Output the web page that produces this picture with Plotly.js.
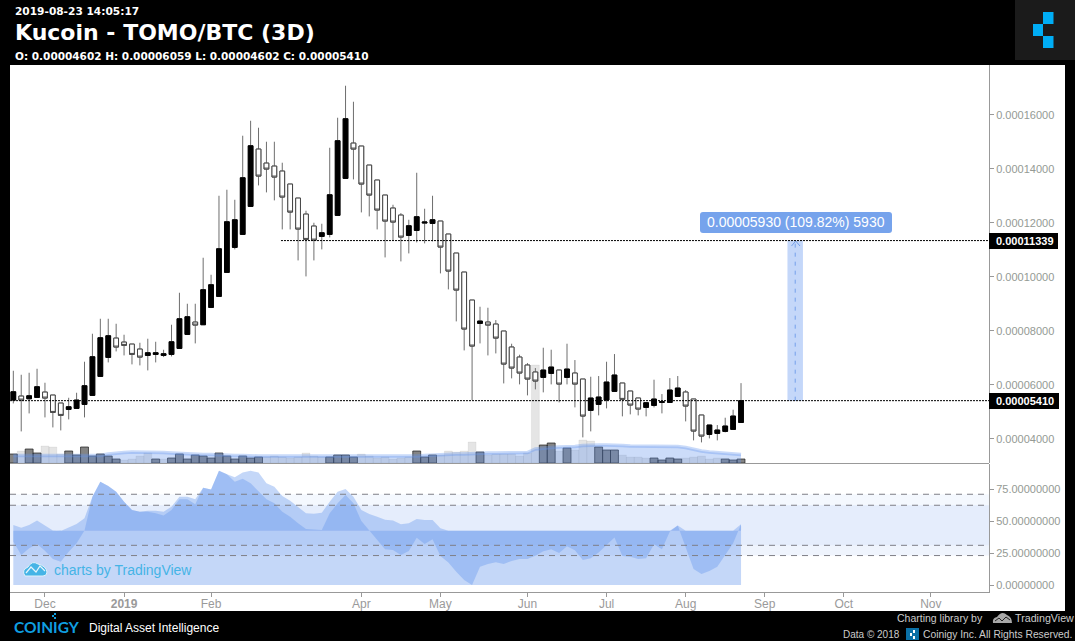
<!DOCTYPE html>
<html>
<head>
<meta charset="utf-8">
<title>Kucoin - TOMO/BTC (3D)</title>
<script src="https://cdn.plot.ly/plotly-3.0.1.min.js"></script>
<style>
  html, body { margin: 0; padding: 0; background: #000; overflow: hidden; }
</style>
</head>
<body>
<div id="plot" style="width:1075px;height:641px"></div>
<script>
// prices are in satoshi (1e-8 BTC), one candle per 3 days
const opens = [5432,5580,5481,5530,5728,5617,5321,5086,5123,5271,5605,6308,7012,7728,7580,7506,7321,7086,7123,7086,7123,7345,7864,8321,8222,8864,9272,10161,11087,11568,12605,14729,14210,14099,13914,13433,12914,12321,11877,11494,11568,12272,13642,14951,14840,14136,13581,13025,12544,12284,11531,11716,11988,11976,12062,11581,10877,10173,9136,8272,8321,8247,7988,7396,7025,6729,6470,6272,6420,6544,6272,6433,6210,5050,5272,5433,5754,6062,5766,5507,5161,5235,5346,5346,5568,5729,5470,4877,4161,4198,4272,4346,4602];
const highs = [6518,6370,6444,6592,6074,5617,5321,5518,5703,6852,7889,8444,8444,8259,7852,7506,7555,7704,7592,7296,8222,9407,9000,9000,10704,10074,13000,13223,12852,15223,15778,15519,15001,15001,14223,13433,12914,12445,12000,11963,14778,15890,17075,16482,14840,14136,13581,13025,12667,12358,12111,13852,12519,13000,12062,11581,10877,10173,9136,8889,8852,8395,7988,7519,7112,6803,6618,7371,7297,6544,7519,6914,6210,6297,6322,6852,7136,6062,5766,5507,5346,6186,5655,6247,6322,5803,5470,4877,4507,4507,4778,5074,6059];
const lows = [5308,4271,4938,5530,4790,4419,4308,4716,5123,4790,5605,6308,6827,7234,7086,6753,6716,6531,6827,7024,7049,7345,7864,7531,8222,8839,9272,10161,11013,11568,12605,13383,13124,12828,11753,11753,10605,10012,10605,11013,11457,12272,13642,13605,12383,12235,11753,10716,11346,10568,10864,11272,11235,11309,10124,9531,8346,7271,5432,7531,7086,7160,6049,6235,6013,5605,5828,5717,6013,5346,6013,5161,4050,4272,4865,5124,5754,4828,4902,4865,4828,5161,4939,5346,5568,4642,3939,3864,4013,3939,4235,4346,4602];
const closes = [5740,5432,5592,5926,5506,4975,4864,5185,5432,5963,7037,7741,7815,7395,7457,7123,7024,7185,7185,7148,7592,8444,8518,8210,9519,9704,11037,12037,12111,13667,14852,13729,13988,13692,12951,12395,11766,11383,11358,11630,13037,15038,15853,14729,13433,13025,12470,12062,12025,11469,11889,12223,12025,12111,11099,10210,9506,8062,7432,8358,8210,7728,6765,6618,6433,6210,6136,6544,6655,6025,6581,6025,4840,5507,5544,6099,6359,5457,5247,5099,5334,5470,5371,5803,5877,5210,4284,4099,4507,4321,4470,4840,5410];

// volume has no scale in the picture, so these are relative heights
const volume = [9,12,14,10,17,16,9,12,8,16,7,9,7,4,3,4,7,10,4,4,5,9,4,8,7,5,10,7,4,7,5,6,6,7,6,5,6,10,7,6,6,8,8,6,9,7,5,6,4,5,6,12,6,8,8,12,11,12,21,11,8,9,9,9,7,10,98,18,20,12,15,13,23,22,16,13,13,8,6,6,5,5,3,5,4,5,6,7,4,5,4,3,4];
const volumeRising = [1,0,1,1,0,0,0,1,1,1,1,1,1,1,0,0,0,0,1,0,1,1,1,1,1,1,1,1,1,1,1,1,0,0,0,0,0,0,0,0,1,1,1,1,0,0,0,0,0,0,0,1,1,1,0,0,0,0,0,1,0,0,0,0,0,0,0,1,1,0,1,0,0,0,1,1,1,0,0,0,0,1,1,1,1,0,0,0,0,0,1,1,1];
const volumeAvg = [7.5,7.5,7.5,7.5,7.5,7.5,7.5,7.5,7.5,7.5,7.5,7.5,9,10,10.5,11,11,11,11,10.5,10,9.5,9,9,8.5,8.5,8,8,7.5,7.5,7,7,7,7,7,6.5,6.5,6.5,6.5,6.5,6.5,6.5,6.5,7,7,7,6.5,6.5,6.5,6.5,6.5,7,7.5,8,8,8.5,9,9,9.5,10,10,10,10,10,10,10.5,14,15,15.5,16,16,16.5,17.5,18,18,18,18,17.5,17,17,17,16.5,16.5,16.5,16.5,15.5,13.5,12,11,10.5,10,9.5,8.5];

// the two oscillator lines and the level their fills hang from
const oscSlow = [46.9,44.8,46.9,50.3,46.4,42.5,42.2,44.8,47.7,52.1,69,80.7,77.4,72.9,65.1,58.6,57.3,58.1,58.1,57.3,61.2,69,69,66.9,76,74.7,89.3,86.5,84.1,87.8,89.3,87.8,79.4,76.8,69.5,65.9,61.2,56,55.7,56.5,65.1,72.9,75,69,58.6,55.5,53.4,51,50.3,47.4,48.2,51.6,50.8,50.8,44.3,42.3,42.3,42.3,42.3,42.3,42.3,42.3,42.3,42.3,42.3,42.3,42.3,42.3,42.3,42.3,42.3,42.3,42.3,42.3,42.3,42.3,42.3,42.3,42.3,42.3,42.3,42.3,42.3,42.3,46.4,42.3,42.3,42.3,42.3,42.3,42.3,42.3,47.4];
const oscFast = [33.9,23.4,28.7,32,26.8,20.3,18.2,26,32.6,42.5,69,80.7,77.4,72.9,65.1,58.6,57.3,57.3,56,54.2,58.6,66.9,66.9,63,76,74.7,89.3,86.5,80.7,83.1,79.4,72.9,66.9,63.8,57.3,53.4,48.2,43.8,43.5,43,56,63.8,70.3,63.8,50,42.5,35.7,27.9,27.3,23.4,26.6,37,32,35.7,22.7,17.5,10.4,3.9,0,14.3,16.4,17.7,16.4,18.8,20.3,20.3,22.9,26.3,27.9,25,30.2,27.1,19.5,20.8,25.3,31.5,37.2,22.7,22.1,20.3,20.8,31.8,27.9,41.7,46.4,29.4,12.5,8.6,11,14.3,23.4,32.6,47.4];
const oscBase = 42.3;
const oscLevels = [70.9, 62.3, 31, 23];

const priceTicks = [4000,6000,8000,10000,12000,14000,16000];
const priceTickLabels = ['0.00004000','0.00006000','0.00008000','0.00010000','0.00012000','0.00014000','0.00016000'];
const oscTicks = [0,25,50,75];
const oscTickLabels = ['0.00000000','25.00000000','50.00000000','75.00000000'];
const timeTicks = [4,14,25,44,54,65,75,85,95,105,116];
const timeTickLabels = ['Dec','<b>2019</b>','Feb','Apr','May','Jun','Jul','Aug','Sep','Oct','Nov'];

const lastClose = 5410;
const measureTop = 11339;
const measureLabel = '0.00005930 (109.82%) 5930';

// pixel helpers for the page furniture, the plot box is 10..989 by 65..592
const W = 1075, H = 641;
const L = 10, R = 989, T = 65, B = 592;
const px = x => (x - L) / (R - L);
const py = y => (B - y) / (B - T);

const idx = candles => candles.map((_, i) => i);
const x = idx(closes);

const gray = '#6e6e6e';
const blue = 'rgba(100,150,237,0.38)';
const cyan = '#0f9fe0';

const wicks = {
    type: 'candlestick', x: x, open: opens, high: highs, low: lows, close: closes,
    xaxis: 'x', yaxis: 'y2', hoverinfo: 'skip', showlegend: false,
    increasing: { line: { color: gray, width: 1 }, fillcolor: gray },
    decreasing: { line: { color: gray, width: 1 }, fillcolor: gray }
};

const bodies = {
    type: 'candlestick', x: x, open: opens, close: closes,
    high: opens.map((o, i) => Math.max(o, closes[i])),
    low: opens.map((o, i) => Math.min(o, closes[i])),
    xaxis: 'x', yaxis: 'y2', hoverinfo: 'skip', showlegend: false,
    increasing: { line: { color: '#000000', width: 1 }, fillcolor: '#000000' },
    decreasing: { line: { color: '#444444', width: 1 }, fillcolor: '#ffffff' }
};

const volumeBars = {
    type: 'bar', x: x, y: volume, xaxis: 'x', yaxis: 'y', hoverinfo: 'skip', showlegend: false,
    marker: {
        color: volumeRising.map(r => r ? 'rgba(50,50,50,0.6)' : 'rgba(0,0,0,0.1)'),
        line: { width: 1, color: volumeRising.map(r => r ? 'rgba(30,30,30,0.7)' : 'rgba(0,0,0,0.05)') }
    }
};

const volumeArea = {
    type: 'scatter', mode: 'lines', x: x, y: volumeAvg, xaxis: 'x', yaxis: 'y', fill: 'tozeroy',
    fillcolor: 'rgba(100,150,237,0.33)', line: { color: 'rgba(100,150,237,0.35)', width: 3.5 },
    hoverinfo: 'skip', showlegend: false
};

// fill between a line and the base level
const oscFill = series => ({
    type: 'scatter', mode: 'lines', xaxis: 'x', yaxis: 'y3',
    x: x.concat(x.slice().reverse()),
    y: series.concat(x.map(() => oscBase)),
    fill: 'toself', fillcolor: blue, line: { width: 0 }, hoverinfo: 'skip', showlegend: false
});

const oscRest = {
    type: 'scatter', mode: 'lines', xaxis: 'x', yaxis: 'y3', x: x, y: x.map(() => oscBase),
    fill: 'tozeroy', fillcolor: blue, line: { width: 0 }, hoverinfo: 'skip', showlegend: false
};

const measureMid = 98.85;

const hline = (y, x0) => ({
    type: 'line', xref: 'x', yref: 'y2', x0: x0, x1: 123.35, y0: y, y1: y,
    line: { color: '#000000', width: 1, dash: '2px,1px' }, layer: 'above'
});

const pxRect = (x0, x1, y0, y1, color) => ({
    type: 'rect', xref: 'paper', yref: 'paper', x0: px(x0), x1: px(x1), y0: py(y0), y1: py(y1),
    fillcolor: color, line: { width: 0 }, layer: 'above'
});

const pxPath = (points, fill, stroke, width) => ({
    type: 'path', xref: 'paper', yref: 'paper', layer: 'above',
    path: points.map((p, i) => (i ? 'L' : 'M') + px(p[0]) + ',' + py(p[1])).join(' ') + (fill ? ' Z' : ''),
    fillcolor: fill || 'rgba(0,0,0,0)', line: { color: stroke, width: width }
});

const shapes = [
    // white page behind the panes
    { type: 'rect', xref: 'paper', yref: 'paper', x0: px(10), x1: px(1065), y0: py(65), y1: py(611), fillcolor: '#ffffff', line: { width: 0 }, layer: 'below' },
    // oscillator bands
    { type: 'rect', xref: 'paper', yref: 'y3', x0: 0, x1: 1, y0: oscLevels[0], y1: oscLevels[2], fillcolor: 'rgba(100,150,237,0.07)', line: { width: 0 }, layer: 'below' },
    { type: 'rect', xref: 'paper', yref: 'y3', x0: 0, x1: 1, y0: oscLevels[1], y1: oscLevels[3], fillcolor: 'rgba(100,150,237,0.1)', line: { width: 0 }, layer: 'below' },
    // pane separator
    { type: 'line', xref: 'paper', yref: 'paper', x0: 0, x1: 1, y0: py(463.5), y1: py(463.5), line: { color: '#999999', width: 1 }, layer: 'above' },
    // measure tool
    { type: 'rect', xref: 'x', yref: 'y2', x0: 97.87, x1: 99.83, y0: lastClose, y1: measureTop, fillcolor: 'rgba(100,150,240,0.38)', line: { width: 0 }, layer: 'above' },
    { type: 'line', xref: 'x', yref: 'y2', x0: measureMid, x1: measureMid, y0: lastClose, y1: measureTop, line: { color: '#74a0eb', width: 1, dash: '4px,5px' }, layer: 'above' },
    pxPath([[791.5, 246], [795.7, 241], [800, 246]], null, '#74a0eb', 1),
    hline(lastClose, -0.42),
    hline(measureTop, 33.84),
    // callout box with rounded corners
    {
        type: 'path', xref: 'paper', yref: 'paper', layer: 'above', fillcolor: '#76a3ec', line: { width: 0 },
        path: `M${px(703)},${py(212)} L${px(889)},${py(212)} Q${px(892)},${py(212)} ${px(892)},${py(215)} L${px(892)},${py(230)} Q${px(892)},${py(233)} ${px(889)},${py(233)} L${px(703)},${py(233)} Q${px(700)},${py(233)} ${px(700)},${py(230)} L${px(700)},${py(215)} Q${px(700)},${py(212)} ${px(703)},${py(212)} Z`
    },
    // price tags
    pxRect(989, 1058, 233, 249, '#000000'),
    pxRect(989, 1059, 393, 409, '#000000'),
    // logo block top right
    pxRect(1015, 1075, 0, 60, '#1b1b1b'),
    pxRect(1043, 1053.5, 12, 24, '#00adf5'),
    pxRect(1033, 1043, 24, 36, '#00adf5'),
    pxRect(1043, 1053.5, 36, 48, '#00adf5'),
    // marks over the I of the footer wordmark
    pxRect(54, 56, 613, 615, cyan),
    pxRect(52, 54, 615, 617, cyan),
    pxRect(54, 56, 617, 619, cyan),
    // small logo in the footer
    pxRect(906, 919, 628, 640, '#0a6fa5'),
    pxRect(913, 915, 630, 633, '#ffffff'),
    pxRect(910, 912, 633, 636, '#ffffff'),
    pxRect(913, 915, 636, 639, '#ffffff'),
    // footer cloud
    {
        type: 'path', xref: 'paper', yref: 'paper', layer: 'above', fillcolor: '#a8a8a8', line: { width: 0 },
        path: `M${px(993)},${py(623)} Q${px(992)},${py(618)} ${px(997)},${py(617)} Q${px(1002)},${py(610)} ${px(1007)},${py(615)} Q${px(1012)},${py(617)} ${px(1012)},${py(623)} Z`
    },
    pxPath([[995, 621], [999, 618], [1002, 621], [1006, 617], [1010, 620]], null, '#222222', 1),
    // watermark cloud
    {
        type: 'path', xref: 'paper', yref: 'paper', layer: 'above', fillcolor: '#45b4e6', line: { color: '#dff1fa', width: 1 },
        path: `M${px(25)},${py(576)} Q${px(21)},${py(570)} ${px(28)},${py(567)} Q${px(32)},${py(560)} ${px(38)},${py(564)} Q${px(46)},${py(566)} ${px(47)},${py(572)} Q${px(47)},${py(576)} ${px(43)},${py(576)} Z`
    },
    pxPath([[26, 573], [31, 567], [36, 572], [40, 566], [45, 571]], null, '#e6f5fc', 1.2)
];
oscLevels.forEach(level => {
    shapes.push({ type: 'line', xref: 'paper', yref: 'y3', x0: 0, x1: 1, y0: level, y1: level, line: { color: '#7f7f87', width: 1, dash: '6px,5px' }, layer: 'above' });
});

const sans = 'Liberation Sans, Arial, sans-serif';
const dejavu = 'DejaVu Sans, Verdana, sans-serif';
const label = (text, left, cy, size, color, family, anchor) => ({
    text: text, xref: 'paper', yref: 'paper', x: px(left), y: py(cy), xanchor: anchor || 'left', yanchor: 'middle',
    showarrow: false, font: { family: family || sans, size: size, color: color }, borderpad: 0
});

const annotations = [
    label('<b>2019-08-23 14:05:17</b>', 14, 11, 10.6, '#ffffff', dejavu),
    label('<b>Kucoin - TOMO/BTC (3D)</b>', 14, 32, 22, '#ffffff', dejavu),
    label('<b>O: 0.00004602 H: 0.00006059 L: 0.00004602 C: 0.00005410</b>', 14, 56, 10.5, '#ffffff', dejavu),
    label('<b>0.00011339</b>', 995, 241, 11, '#ffffff'),
    label('<b>0.00005410</b>', 995, 401, 11, '#ffffff'),
    label(measureLabel, 796, 222.5, 14, '#ffffff', sans, 'center'),
    label('charts by TradingView', 53, 570, 14, '#45b4e6'),
    label('<b>COINIGY</b>', 13, 627, 15.5, cyan, 'Lato, sans-serif'),
    label('Digital Asset Intelligence', 88, 628, 12, '#ffffff'),
    label('Charting library by', 896, 618, 10.5, '#cccccc'),
    label('TradingView', 1014, 618, 10.7, '#cccccc'),
    label('Data © 2018', 842, 634, 10, '#cccccc'),
    label('Coinigy Inc. All Rights Reserved.', 922, 634, 10.3, '#cccccc')
];

const axisGray = '#999999';
const tickFont = { family: sans, size: 11, color: '#949a94' };

const layout = {
    width: W,
    height: H,
    margin: { l: L, r: W - R, t: T, b: H - B, pad: 0 },
    paper_bgcolor: '#000000',
    plot_bgcolor: '#ffffff',
    showlegend: false,
    bargap: 0,
    boxgap: 0.4,
    boxgroupgap: 0,
    xaxis: {
        domain: [0, 1],
        anchor: 'y3',
        range: [-0.42, 123.35],
        rangeslider: { visible: false },
        tickmode: 'array',
        tickvals: timeTicks,
        ticktext: timeTickLabels,
        ticks: 'outside',
        ticklen: 4,
        tickcolor: axisGray,
        ticklabelstandoff: -3,
        showgrid: false,
        zeroline: false,
        showline: true,
        linecolor: axisGray,
        linewidth: 1,
        tickfont: { family: sans, size: 12, color: '#9a9a9a' }
    },
    yaxis: {
        domain: [(B - 463) / (B - T), 1],
        range: [0, 398],
        visible: false,
        fixedrange: true
    },
    yaxis2: {
        overlaying: 'y',
        side: 'right',
        anchor: 'x',
        range: [3101, 17843],
        tickmode: 'array',
        tickvals: priceTicks,
        ticktext: priceTickLabels,
        ticks: 'outside',
        ticklen: 4,
        tickcolor: axisGray,
        showgrid: false,
        zeroline: false,
        showline: true,
        linecolor: axisGray,
        tickfont: tickFont
    },
    yaxis3: {
        domain: [0, (B - 464) / (B - T)],
        side: 'right',
        anchor: 'x',
        range: [-5.47, 94.53],
        tickmode: 'array',
        tickvals: oscTicks,
        ticktext: oscTickLabels,
        ticks: 'outside',
        ticklen: 4,
        tickcolor: axisGray,
        showgrid: false,
        zeroline: false,
        showline: true,
        linecolor: axisGray,
        tickfont: tickFont
    },
    shapes: shapes,
    annotations: annotations
};

Plotly.newPlot('plot', [volumeBars, volumeArea, oscRest, oscFill(oscSlow), oscFill(oscFast), wicks, bodies], layout, { displayModeBar: false, staticPlot: true });
</script>
</body>
</html>
